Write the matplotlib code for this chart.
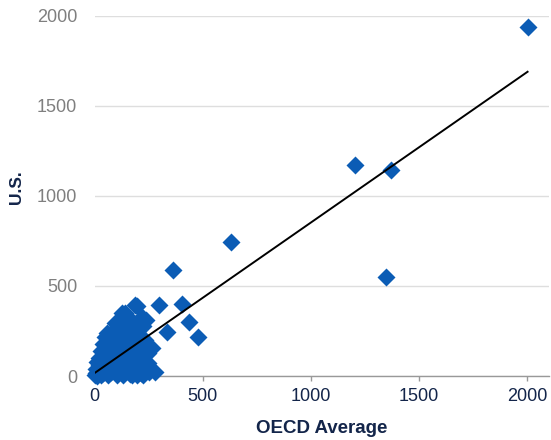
import numpy as np
import matplotlib
matplotlib.use("Agg")
import matplotlib.pyplot as plt

plt.rcParams['font.family'] = ['Liberation Sans', 'DejaVu Sans']

# OECD average vs U.S. values
oecd_avg = [
    2001, 1203, 1369, 1346, 630, 362, 402, 300, 438, 478, 335, 279, 256,
    3, 8, 12, 15, 18, 22, 25, 28, 32, 35, 38, 42, 45, 48, 50, 55, 58, 60,
    62, 66, 70, 74, 78, 82, 85, 88, 92, 95, 98, 102, 105, 108, 112, 115,
    118, 122, 127, 130, 134, 138, 141, 145, 150, 154, 158, 162, 166, 170,
    175, 180, 187, 190, 196, 200, 205, 210, 215, 222, 228, 235, 245, 265,
    225, 220, 240,
    20, 30, 40, 52, 68, 72, 84, 96, 100, 110, 125, 132, 140, 148, 155,
    160, 168, 178, 185, 192, 198, 208, 212, 218, 232, 238, 248, 180, 150,
    120, 90, 60, 10, 5, 130, 175, 195, 252,
]
us_values = [
    1939, 1172, 1144, 550, 744, 589, 398, 394, 297, 214, 244, 22, 161,
    5, 18, 2, 40, 10, 60, 25, 5, 90, 45, 15, 120, 70, 217, 30, 160, 239, 95,
    8, 130, 55, 190, 20, 150, 250, 80, 110, 294, 40, 200, 5, 170, 60, 230,
    130, 90, 350, 25, 260, 180, 350, 110, 60, 300, 210, 10, 140, 240,
    90, 35, 394, 270, 389, 160, 60, 110, 15, 280, 80, 200, 130, 156,
    5, 330, 310,
    100, 140, 180, 110, 200, 100, 40, 150, 250, 100, 200, 140, 60, 170, 250,
    100, 40, 180, 120, 70, 220, 170, 30, 100, 40, 160, 70, 300, 290,
    270, 200, 170, 80, 40, 5, 5, 8, 20,
]
x_ticks = [0, 500, 1000, 1500, 2000]
y_ticks = [0, 500, 1000, 1500, 2000]

# linear trend: U.S. = slope * OECD + intercept
trend_slope = 0.836
trend_intercept = 16

x = np.array(oecd_avg, dtype=float)
y = np.array(us_values, dtype=float)

blue = '#0B5CB5'
navy = '#13254A'
gray_text = '#7F7F7F'

fig = plt.figure(figsize=(5.51, 4.40), dpi=100)
ax = fig.add_axes([94.5 / 551, 64 / 440, 454.5 / 551, 360.3 / 440])

ax.scatter(x, y, s=84, marker='D', color=blue, linewidths=0, zorder=3,
           clip_on=False)

xs = np.array([x.min(), x.max()])
ax.plot(xs, trend_slope * xs + trend_intercept, color='black', lw=1.4, zorder=4)

ax.set_xlim(0, 2100)
ax.set_ylim(0, 2000)
ax.set_xticks(x_ticks)
ax.set_yticks(y_ticks)

ax.grid(axis='y', color='#DEDEDE', lw=1)
ax.set_axisbelow(True)
for side in ('top', 'right', 'left'):
    ax.spines[side].set_visible(False)
ax.spines['bottom'].set_color('#999999')
ax.spines['bottom'].set_linewidth(1)
ax.spines['bottom'].set_zorder(2)

ax.tick_params(axis='y', length=0, pad=12.5, labelsize=13, labelcolor=gray_text)
ax.tick_params(axis='x', length=3.6, width=1, color='#999999', pad=5,
               labelsize=13, labelcolor=navy)

ax.set_xlabel('OECD Average', fontsize=13.5, fontweight='bold', color=navy)
ax.xaxis.set_label_coords(0.5, -0.147)
ax.xaxis.label.set_va('center')
ax.set_ylabel('U.S.', fontsize=12.5, fontweight='bold', color=navy)
ax.yaxis.set_label_coords(-0.171, 0.525)
ax.yaxis.label.set_va('center')

fig.savefig('out.png', dpi=100)
